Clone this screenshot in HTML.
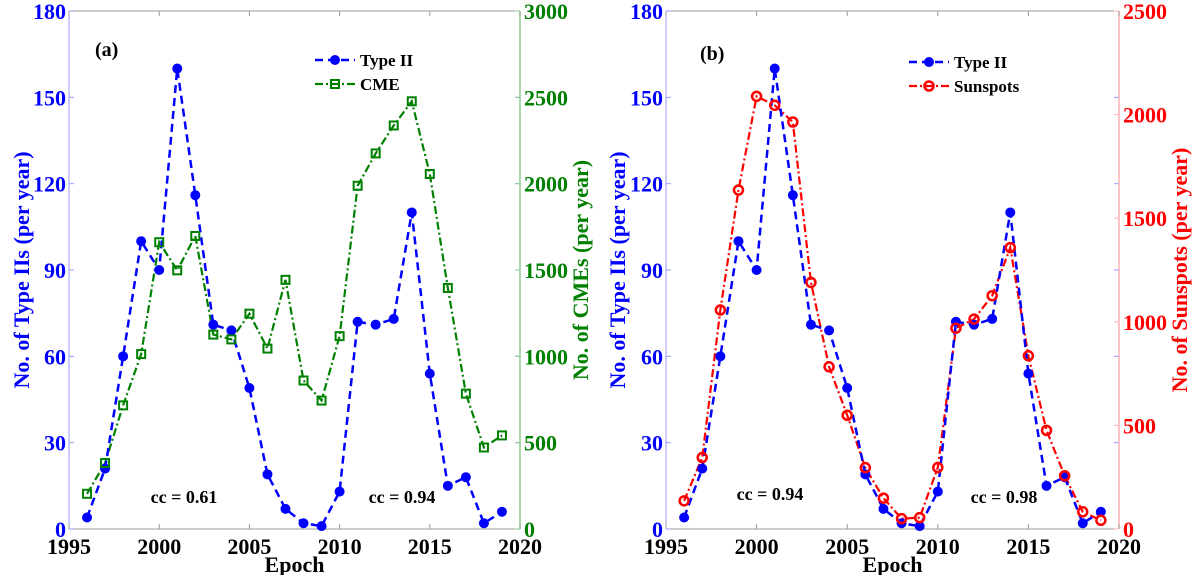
<!DOCTYPE html>
<html><head><meta charset="utf-8"><style>
body{margin:0;background:#fff}
svg{display:block;font-family:"Liberation Serif",serif;font-weight:bold}
</style></head><body>
<svg id="c" width="1200" height="575" viewBox="0 0 1200 575" xmlns="http://www.w3.org/2000/svg"></svg>
<script>
const years=[1996,1997,1998,1999,2000,2001,2002,2003,2004,2005,2006,2007,2008,2009,2010,2011,2012,2013,2014,2015,2016,2017,2018,2019];
const typeII=[4,21,60,100,90,160,116,71,69,49,19,7,2,1,13,72,71,73,110,54,15,18,2,6];
const cme=[204,382,716,1013,1661,1498,1697,1126,1098,1247,1045,1443,860,744,1117,1988,2175,2337,2477,2056,1396,784,472,542];
const sunspots=[136,345,1057,1636,2088,2045,1964,1190,783,549,296,149,50,55,297,969,1013,1126,1358,836,476,257,83,42];
const xTicks=[1995,2000,2005,2010,2015,2020];
const yTicks=[0,30,60,90,120,150,180];
const cmeTicks=[0,500,1000,1500,2000,2500,3000];
const ssTicks=[0,500,1000,1500,2000,2500];

const NS="http://www.w3.org/2000/svg";
const svg=document.getElementById('c');
function mk(tag,attrs,parent){const e=document.createElementNS(NS,tag);for(const k in attrs)e.setAttribute(k,attrs[k]);(parent||svg).appendChild(e);return e;}

const panels=[
 {id:'a',L:69,R:520,T:11,B:529,r2:cme,r2max:3000,r2ticks:cmeTicks,r2col:'#008000',r2ax:'#90c890',r2name:'CME',r2title:'No. of CMEs (per year)',titleX:588,ltitleX:29,lab:[95,56],legX:315,legY:60,cc:[['cc = 0.61',184,503],['cc = 0.94',402,503]]},
 {id:'b',L:666,R:1119,T:11,B:529,r2:sunspots,r2max:2500,r2ticks:ssTicks,r2col:'#ff0000',r2ax:'#ffb0b0',r2name:'Sunspots',r2title:'No. of Sunspots (per year)',titleX:1187,ltitleX:625,lab:[700,60],legX:909,legY:62,cc:[['cc = 0.94',770,500],['cc = 0.98',1004,503]]}
];

panels.forEach(p=>{
 const g=mk('g',{});
 
 
 const x=v=>p.L+(v-1995)/25*(p.R-p.L);
 const y=v=>p.B-v/180*(p.B-p.T);
 const y2=v=>p.B-v/p.r2max*(p.B-p.T);
 mk('line',{x1:p.L,y1:p.T,x2:p.R,y2:p.T,stroke:'#999','stroke-width':1},g);
 mk('line',{x1:p.L,y1:p.B,x2:p.R,y2:p.B,stroke:'#999','stroke-width':1},g);
 mk('line',{x1:p.L,y1:p.T,x2:p.L,y2:p.B,stroke:'#9a9aff','stroke-width':1},g);
 mk('line',{x1:p.R,y1:p.T,x2:p.R,y2:p.B,stroke:p.r2ax,'stroke-width':1.5},g);
 xTicks.forEach(t=>{
  mk('line',{x1:x(t),y1:p.B,x2:x(t),y2:p.B-5,stroke:'#999'},g);
  mk('line',{x1:x(t),y1:p.T,x2:x(t),y2:p.T+5,stroke:'#999'},g);
  const tx=mk('text',{x:x(t),y:p.B+25,'text-anchor':'middle','font-size':22,fill:'#000'},g);
  
  
  tx.textContent=t;
 });
 yTicks.forEach(t=>{
  mk('line',{x1:p.L,y1:y(t),x2:p.L+5,y2:y(t),stroke:'#9a9aff'},g);
  mk('line',{x1:p.R,y1:y(t),x2:p.R-5,y2:y(t),stroke:'#9a9aff'},g);
  const tx=mk('text',{x:p.L-3,y:y(t)+8,'text-anchor':'end','font-size':22,fill:'#0000ff'},g);
  
  
  tx.textContent=t;
 });
 p.r2ticks.forEach(t=>{
  mk('line',{x1:p.R,y1:y2(t),x2:p.R-5,y2:y2(t),stroke:p.r2ax},g);
  const tx=mk('text',{x:p.R+4,y:y2(t)+8,'text-anchor':'start','font-size':22,fill:p.r2col},g);
  
  
  tx.textContent=t;
 });
 let t=mk('text',{x:0,y:0,transform:`translate(${p.ltitleX},${(p.T+p.B)/2}) rotate(-90)`,'text-anchor':'middle','font-size':22,fill:'#0000ff'},g);
 
 
 t.textContent='No. of Type IIs (per year)';
 t=mk('text',{x:0,y:0,transform:`translate(${p.titleX},${(p.T+p.B)/2}) rotate(-90)`,'text-anchor':'middle','font-size':22,fill:p.r2col},g);
 
 
 t.textContent=p.r2title;
 t=mk('text',{x:(p.L+p.R)/2,y:572,'text-anchor':'middle','font-size':22,fill:'#000'},g);
 
 
 t.textContent='Epoch';
 t=mk('text',{x:p.lab[0],y:p.lab[1],'font-size':20,fill:'#000'},g);
 
 
 t.textContent='('+p.id+')';
 p.cc.forEach(c=>{
  const e=mk('text',{x:c[1],y:c[2],'text-anchor':'middle','font-size':18,fill:'#000'},g);
  
  
  e.textContent=c[0];
 });
 const isCme=p.id==='a';
 const d2=years.map((yr,i)=>`${i?'L':'M'}${x(yr)},${y2(p.r2[i])}`).join('');
 const l2=mk('path',{d:d2,fill:'none',stroke:p.r2col,'stroke-width':2.2,'stroke-dasharray':'8,3,2,3'},g);
 
 
 const d1=years.map((yr,i)=>`${i?'L':'M'}${x(yr)},${y(typeII[i])}`).join('');
 const l1=mk('path',{d:d1,fill:'none',stroke:'#0000ff','stroke-width':2.5,'stroke-dasharray':'8,5'},g);
 
 
 years.forEach((yr,i)=>{
  const m=mk('circle',{cx:x(yr),cy:y(typeII[i]),r:5,fill:'#0000ff'},g);
  
  
 });
 years.forEach((yr,i)=>{
  let m;
  if(isCme) m=mk('rect',{x:x(yr)-4,y:y2(p.r2[i])-4,width:8,height:8,fill:'none',stroke:'#008000','stroke-width':2},g);
  else m=mk('circle',{cx:x(yr),cy:y2(p.r2[i]),r:4.5,fill:'none',stroke:'#ff0000','stroke-width':2.5},g);
  
  
 });
 const lg=mk('g',{},g);
 
 
 mk('line',{x1:p.legX,y1:p.legY,x2:p.legX+40,y2:p.legY,stroke:'#0000ff','stroke-width':2.5,'stroke-dasharray':'8,5'},lg);
 mk('circle',{cx:p.legX+20,cy:p.legY,r:5,fill:'#0000ff'},lg);
 let lt=mk('text',{x:p.legX+45,y:p.legY+6,'font-size':17,fill:'#000'},lg);
 
 
 lt.textContent='Type II';
 const ly=p.legY+24;
 mk('line',{x1:p.legX,y1:ly,x2:p.legX+40,y2:ly,stroke:p.r2col,'stroke-width':2.2,'stroke-dasharray':'8,3,2,3'},lg);
 if(isCme) mk('rect',{x:p.legX+16,y:ly-4,width:8,height:8,fill:'none',stroke:'#008000','stroke-width':2},lg);
 else mk('circle',{cx:p.legX+20,cy:ly,r:4.5,fill:'none',stroke:'#ff0000','stroke-width':2.5},lg);
 lt=mk('text',{x:p.legX+45,y:ly+6,'font-size':17,fill:'#000'},lg);
 
 
 lt.textContent=p.r2name;
});
</script>
</body></html>
